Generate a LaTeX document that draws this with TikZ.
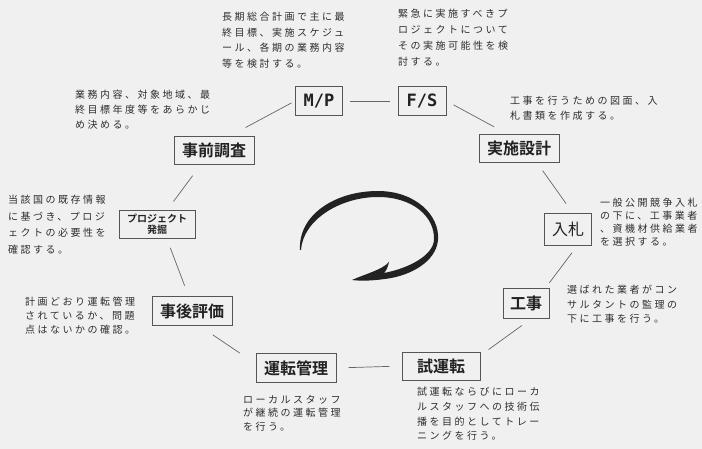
\documentclass[tikz,border=0pt]{standalone}
\usepackage{fontspec}
\newfontfamily\cjk{Noto Sans CJK JP}[BoldFont={Noto Sans CJK JP Bold}]
\newfontfamily\cjkdesc{Noto Sans CJK JP}[LetterSpace=25]
\newfontfamily\monob{DejaVu Sans Mono Bold}
\newcommand\descf[1]{\cjkdesc\fontsize{10}{#1}\selectfont}
\definecolor{bgc}{HTML}{F0F0F0}
\definecolor{ink}{HTML}{222222}
\definecolor{descc}{HTML}{2E2E2E}
\definecolor{boxc}{HTML}{555555}
\definecolor{linec}{HTML}{666666}
\tikzset{
  box/.style={draw=boxc, line width=0.9pt, inner sep=0pt, text=ink,
              minimum width=80pt, minimum height=28pt,
              font=\cjk\bfseries\fontsize{16}{16}\selectfont},
  link/.style={draw=linec, line width=0.7pt},
  desc/.style={anchor=north west, inner sep=0pt, align=left, text=descc},
}
\begin{document}
\begin{tikzpicture}[x=1pt,y=-1pt]
\useasboundingbox (0,0) rectangle (702,449);
\fill[bgc] (0,0) rectangle (702,449);

% boxes
\node[box, minimum width=47pt, minimum height=29pt, font=\monob\fontsize{17}{17}\selectfont] (mp) at (319,101) {M/P};
\node[box, minimum width=48pt, minimum height=29pt, font=\monob\fontsize{17}{17}\selectfont] (fs) at (422,101) {F/S};
\node[box] (jizen) at (214,150) {事前調査};
\node[box] (jisshi) at (519,148) {実施設計};
\node[box, minimum width=76pt, align=center, font=\cjk\bfseries\fontsize{10}{11}\selectfont] (pj) at (157,224) {プロジェクト\\発掘};
\node[box, minimum width=47pt, minimum height=32pt, font=\cjk\fontsize{16}{16}\selectfont] (nyu) at (568,229) {入札};
\node[box, minimum width=46pt, minimum height=30pt] (kouji) at (526,303) {工事};
\node[box, minimum height=29pt] (jigo) at (192,311) {事後評価};
\node[box, minimum height=29pt] (unten) at (296,368) {運転管理};
\node[box, minimum width=78pt] (shi) at (441,366) {試運転};

% connectors
\draw[link, shorten <=7pt, shorten >=8pt] (mp.east) -- (fs.west);
\draw[link, shorten <=8pt, shorten >=14pt] (fs.east) -- (jisshi.131);
\draw[link, shorten <=10pt, shorten >=11pt] (jisshi.-39) -- (nyu.75);
\draw[link, shorten <=9pt, shorten >=6pt] (nyu.-60) -- (kouji.38);
\draw[link, shorten <=12pt, shorten >=10pt] (kouji.-70) -- (shi.15);
\draw[link, shorten <=12pt, shorten >=12pt] (shi.west) -- (unten.east);
\draw[link, shorten <=19pt, shorten >=16pt] (unten.174) -- (jigo.-63);
\draw[link, shorten <=11pt, shorten >=10pt] (jigo.103) -- (pj.-56);
\draw[link, shorten <=10pt, shorten >=14pt] (pj.54) -- (jizen.-132);
\draw[link, shorten <=17pt, shorten >=4pt] (jizen.41) -- (mp.west);

% descriptions
\node[desc, font=\descf{15.5}] (dmp) at (222,12) {長期総合計画で主に最\\終目標、実施スケジュ\\ール、各期の業務内容\\等を検討する。};
\node[desc, font=\descf{16}] (dfs) at (398,9) {緊急に実施すべきプ\\ロジェクトについて\\その実施可能性を検\\討する。};
\node[desc, font=\descf{15}] (djizen) at (75,90) {業務内容、対象地域、最\\終目標年度等をあらかじ\\め決める。};
\node[desc, font=\descf{15}] (djisshi) at (510,96) {工事を行うための図面、入\\札書類を作成する。};
\node[desc, font=\descf{13}] (dnyu) at (600,198) {一般公開競争入札\\の下に、工事業者\\、資機材供給業者\\を選択する。};
\node[desc, font=\descf{14.5}] (dkouji) at (567,285) {選ばれた業者がコン\\サルタントの監理の\\下に工事を行う。};
\node[desc, font=\descf{16.5}] (dpj) at (8,195) {当該国の既存情報\\に基づき、プロジ\\ェクトの必要性を\\確認する。};
\node[desc, font=\descf{14}] (djigo) at (25,297) {計画どおり運転管理\\されているか、問題\\点はないかの確認。};
\node[desc, font=\descf{13.5}] (dunten) at (243,395) {ローカルスタッフ\\が継続の運転管理\\を行う。};
\node[desc, font=\descf{14.7}] (dshi) at (417,387) {試運転ならびにローカ\\ルスタッフへの技術伝\\播を目的としてトレー\\ニングを行う。};

% central cycle arrow
\fill[ink] (300,250) .. controls (298,215) and (335,191) .. (378,191)
  .. controls (415,191) and (440,215) .. (438,240)
  .. controls (436,262) and (410,276) .. (385,279)
  .. controls (370,281) and (360,281) .. (352,280)
  .. controls (365,274) and (382,270) .. (389,262)
  .. controls (388,267) and (386,271) .. (384,273)
  .. controls (410,268) and (433,255) .. (434,240)
  .. controls (435,216) and (412,197) .. (378,197)
  .. controls (340,197) and (303,220) .. (301,250) -- cycle;
\end{tikzpicture}
\end{document}
